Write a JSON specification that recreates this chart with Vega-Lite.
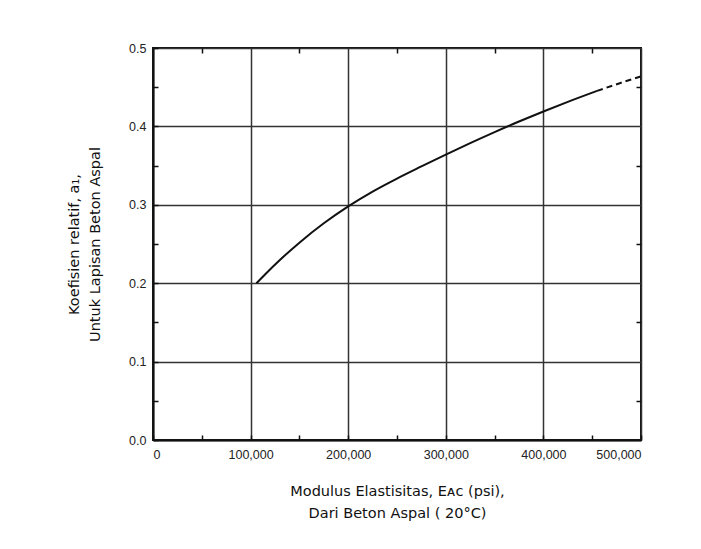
{
  "$schema": "https://vega.github.io/schema/vega-lite/v6.json",
  "autosize": {"type": "none"},
  "width": 488,
  "height": 392,
  "padding": {"left": 153, "top": 48, "right": 60, "bottom": 109},
  "background": "white",
  "config": {
    "view": {"stroke": "#111", "strokeWidth": 2},
    "axis": {
      "labelFont": "Liberation Sans",
      "labelFontSize": 12.5,
      "labelColor": "#222",
      "titleFont": "DejaVu Sans",
      "titleFontSize": 14.5,
      "titleFontWeight": "normal",
      "titleColor": "#111",
      "domainColor": "#111",
      "domainWidth": 2,
      "tickColor": "#111",
      "tickWidth": 1.5,
      "gridColor": "#333",
      "gridWidth": 1.5,
      "gridOpacity": 1
    }
  },
  "datasets": {
    "solid": [
      {"E": 106000, "a": 0.2000},
      {"E": 115000, "a": 0.2115},
      {"E": 130000, "a": 0.2296},
      {"E": 150000, "a": 0.2517},
      {"E": 175000, "a": 0.2764},
      {"E": 200000, "a": 0.2980},
      {"E": 225000, "a": 0.3169},
      {"E": 250000, "a": 0.3335},
      {"E": 275000, "a": 0.3489},
      {"E": 300000, "a": 0.3640},
      {"E": 325000, "a": 0.3787},
      {"E": 350000, "a": 0.3928},
      {"E": 375000, "a": 0.4062},
      {"E": 400000, "a": 0.4190},
      {"E": 425000, "a": 0.4313},
      {"E": 455000, "a": 0.4453}
    ],
    "dashed": [
      {"E": 455000, "a": 0.4453},
      {"E": 477500, "a": 0.4548},
      {"E": 500000, "a": 0.4638}
    ]
  },
  "resolve": {"axis": {"x": "independent", "y": "independent"}},
  "layer": [
    {
      "data": {"name": "solid"},
      "mark": {"type": "line", "color": "#111", "strokeWidth": 2, "interpolate": "monotone"},
      "encoding": {
        "x": {
          "field": "E", "type": "quantitative",
          "scale": {"domain": [0, 500000], "nice": false, "zero": false},
          "axis": {
            "orient": "bottom",
            "values": [0, 50000, 100000, 150000, 200000, 250000, 300000, 350000, 400000, 450000, 500000],
            "labelExpr": "datum.value % 100000 === 0 ? format(datum.value, ',') : ''",
            "tickSize": -5,
            "labelPadding": 13,
            "gridOpacity": {"condition": {"test": "datum.value % 100000 === 0", "value": 1}, "value": 0},
            "title": ["Modulus Elastisitas, Eᴀᴄ (psi),", "Dari Beton Aspal ( 20°C)"],
            "titleLineHeight": 21.5,
            "titlePadding": 24
          }
        },
        "y": {
          "field": "a", "type": "quantitative",
          "scale": {"domain": [0, 0.5], "nice": false, "zero": false},
          "axis": {
            "orient": "left",
            "values": [0, 0.05, 0.1, 0.15, 0.2, 0.25, 0.3, 0.35, 0.4, 0.45, 0.5],
            "labelExpr": "abs(datum.value * 10 - round(datum.value * 10)) < 0.001 ? format(datum.value, '.1f') : ''",
            "tickSize": -5,
            "labelPadding": 12,
            "gridOpacity": {"condition": {"test": "abs(datum.value * 10 - round(datum.value * 10)) < 0.001", "value": 1}, "value": 0},
            "title": ["Koefisien relatif, a₁,", "Untuk Lapisan Beton Aspal"],
            "titleLineHeight": 21,
            "titlePadding": 26
          }
        }
      }
    },
    {
      "data": {"name": "dashed"},
      "mark": {"type": "line", "color": "#111", "strokeWidth": 2, "strokeDash": [6, 4], "interpolate": "monotone"},
      "encoding": {
        "x": {
          "field": "E", "type": "quantitative",
          "axis": {
            "orient": "top",
            "values": [50000, 150000, 250000, 350000, 450000],
            "labels": false, "domain": false, "grid": false,
            "tickSize": -5, "title": null
          }
        },
        "y": {
          "field": "a", "type": "quantitative",
          "axis": {
            "orient": "right",
            "values": [0.05, 0.15, 0.25, 0.35, 0.45],
            "labels": false, "domain": false, "grid": false,
            "tickSize": -5, "title": null
          }
        }
      }
    }
  ]
}
